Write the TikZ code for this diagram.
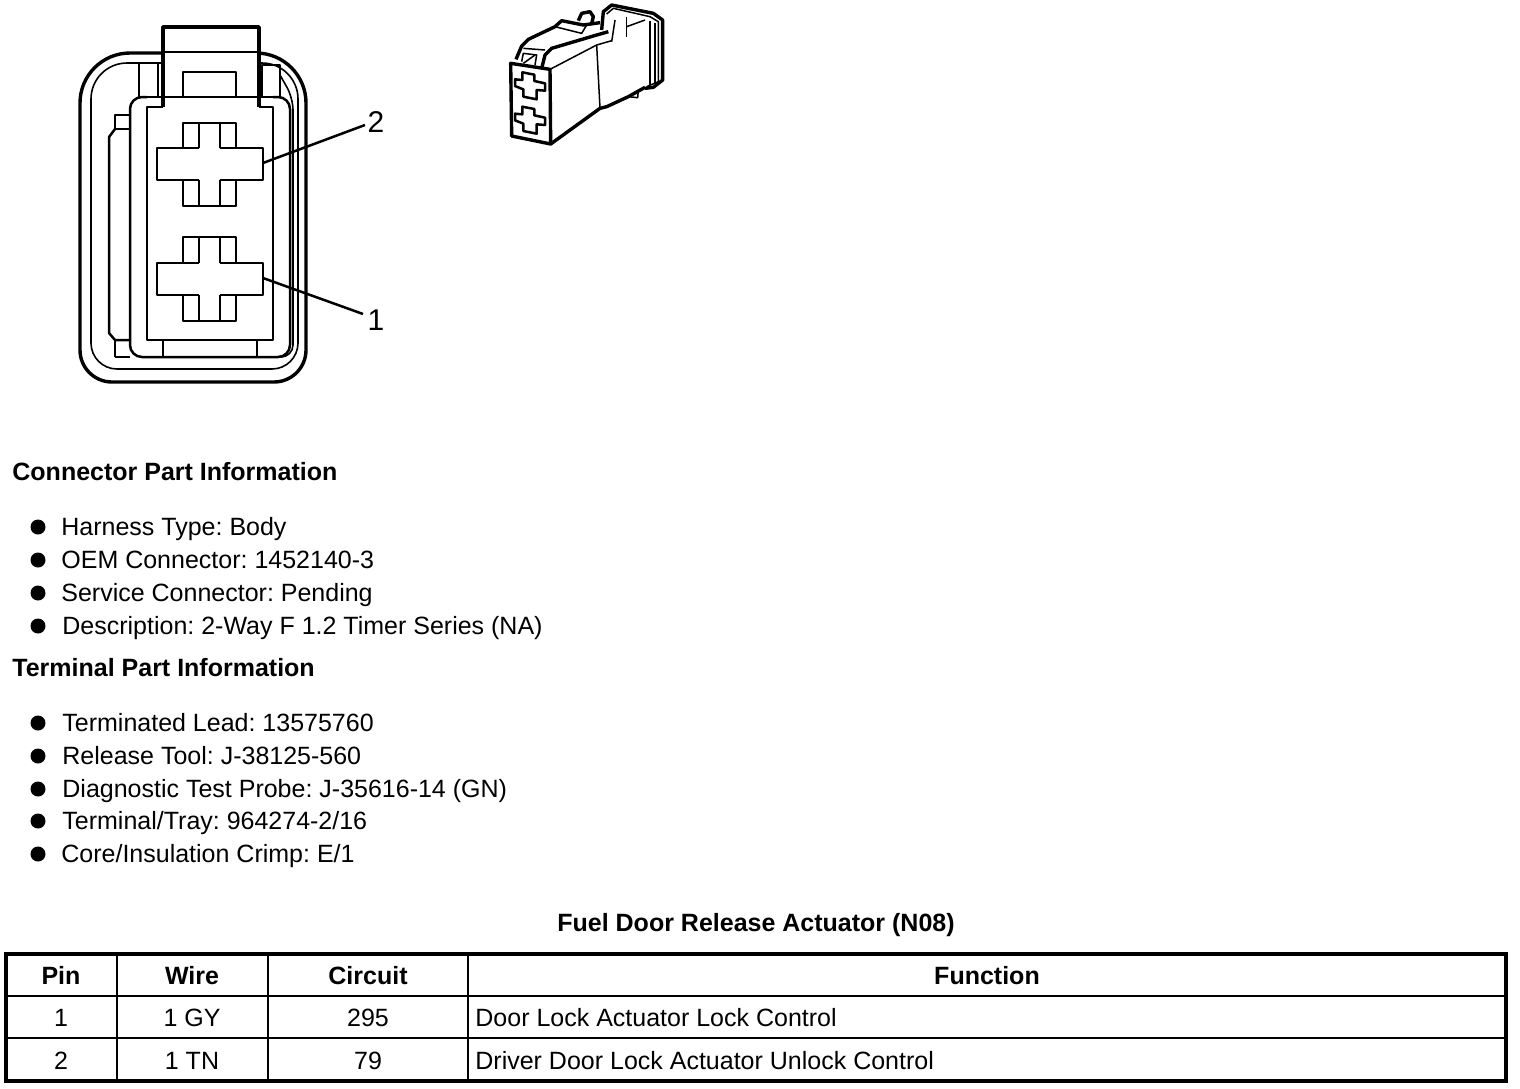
\documentclass[tikz,border=0pt]{standalone}
\usepackage{fontspec}
\setmainfont{Liberation Sans}
\usepackage{tikz}
\usetikzlibrary{calc}
\frenchspacing

\tikzset{
  heavy/.style={line width=1.7pt, line join=round},
  cavity/.style={line width=1.45pt, line join=round},
  medium/.style={line width=1.25pt, line join=round},
  light/.style={line width=0.8pt, line join=round},
  heading/.style={anchor=base west, inner sep=0pt, font=\bfseries\fontsize{12.5}{14}\selectfont},
  bodytext/.style={anchor=base west, inner sep=0pt, font=\fontsize{12.5}{14}\selectfont},
  tabletext/.style={anchor=base, inner sep=0pt, font=\fontsize{12.5}{14}\selectfont},
  tablehead/.style={anchor=base, inner sep=0pt, font=\bfseries\fontsize{12.5}{14}\selectfont},
  pinlabel/.style={inner sep=0pt, font=\fontsize{15}{17}\selectfont},
  bullet/.style={fill=black, circle, inner sep=0pt, minimum size=7.5pt},
  sketch/.style={line width=0.75pt, line join=round}
}

\begin{document}
\begin{tikzpicture}[x=0.5pt, y=-0.5pt]

        \useasboundingbox (0,0) rectangle (1520,1088);

        % shell of the connector
        \draw[heavy] (163,53) [rounded corners=25pt] -- (80,53) -- (80,250) [rounded corners=16pt] -- (80,382) -- (306,382) -- (306,250) [rounded corners=25pt] -- (306,53) -- (259,53);
        \draw[light] (163,63) [rounded corners=18pt] -- (91,63) -- (91,250) [rounded corners=13pt] -- (91,369) -- (298,369) -- (298,250) [rounded corners=18pt] -- (298,63) -- (259,63);
        \draw[light, rounded corners=6pt] (280,75) -- (293,98) -- (293,357) -- (280,357);

        % left side lugs
        \draw[medium] (130,115) -- (115,115) -- (115,129) -- (130,129);
        \draw[medium] (115,129) -- (109,137) -- (109,333) -- (115,340) -- (130,340);
        \draw[medium] (115,340) -- (115,357);

        % upper lugs
        \draw[light] (139,97) -- (139,63);
        \draw[medium] (158,97) -- (158,63);
        \draw[light] (262,97) -- (262,65) -- (280,65) -- (280,97);

        % body
        \draw[medium, rounded corners=6pt] (147,97) -- (130,97) -- (130,357) -- (290,357) -- (290,97) -- (273,97);
        \draw[light] (115,357) -- (130,357);
        \draw[light] (163,340) -- (163,357);
        \draw[light] (257,340) -- (257,357);

        % cavity and lock tab
        \draw[cavity] (163,107) -- (147,107) -- (147,340) -- (273,340) -- (273,107) -- (259,107);
        \draw[heavy, fill=white] (163,107) -- (163,27) -- (259,27) -- (259,107);
        \draw[light] (163,52) -- (259,52);
        \draw[medium] (147,97) -- (273,97);
        \draw[medium] (183,97) -- (183,72) -- (236,72) -- (236,97);

        % terminal 2
        \draw[medium] (183,148) -- (183,123) -- (236,123) -- (236,148);
        \draw[medium] (183,180) -- (183,206) -- (236,206) -- (236,180);
        \draw[light] (199,123) -- (199,148);
        \draw[light] (220,123) -- (220,148);
        \draw[light] (199,180) -- (199,206);
        \draw[light] (220,180) -- (220,206);
        \draw[cavity] (199,148) -- (157,148) -- (157,180) -- (199,180);
        \draw[cavity] (220,148) -- (263,148) -- (263,180) -- (220,180);
        \coordinate (pinB) at (263,163);

        % terminal 1
        \draw[medium] (183,263) -- (183,237) -- (236,237) -- (236,263);
        \draw[medium] (183,295) -- (183,321) -- (236,321) -- (236,295);
        \draw[light] (199,237) -- (199,263);
        \draw[light] (220,237) -- (220,263);
        \draw[light] (199,295) -- (199,321);
        \draw[light] (220,295) -- (220,321);
        \draw[cavity] (199,263) -- (157,263) -- (157,295) -- (199,295);
        \draw[cavity] (220,263) -- (263,263) -- (263,295) -- (220,295);
        \coordinate (pinA) at (263,278);

        % leaders
        \node[pinlabel] (labelB) at (376,122) {2};
        \node[pinlabel] (labelA) at (376,320) {1};
        \coordinate (endB) at (365,125);
        \coordinate (endA) at (363,314);
        \draw[medium] (pinB) -- (endB);
        \draw[medium] (pinA) -- (endA);

        % small view of the connector
        \begin{scope}[shift={(490,0)}, x=0.16667pt, y=-0.16667pt]
          \draw[heavy] (62,190) -- (180,208) -- (182,432) -- (65,408) -- cycle;
          \draw[sketch] (180,208) -- (320,135) -- (330,325);
          \draw[sketch] (320,135) -- (365,122);
          \draw[heavy] (182,432) -- (330,325) -- (350,320) -- (415,290) -- (465,262);
          \draw[sketch] (415,290) -- (443,293) -- (445,270);
          \draw[heavy] (78,178) -- (95,138) -- (115,118) -- (195,80) -- (215,62) -- (280,75) -- (330,68);
          \draw[heavy] (155,205) -- (165,165) -- (185,145) -- (320,105) -- (355,95);
          \draw[sketch] (95,185) -- (100,160) -- (140,165) -- (135,195);
          \draw[sketch] (100,190) -- (135,165);
          \draw[sketch] (100,145) -- (165,150);
          \draw[sketch] (195,80) -- (275,100) -- (290,75);
          \draw[heavy] (265,62) -- (275,40) -- (300,35) -- (310,50) -- (305,70);
          \draw[heavy] (335,90) -- (340,35) -- (365,15) -- (490,40) -- (518,60) -- (518,240) -- (490,262) -- (465,265);
          \draw[sketch] (350,42) -- (370,25) -- (480,50) -- (505,65) -- (505,245) -- (470,260);
          \draw[sketch] (495,70) -- (495,252);
          \draw[sketch] (480,62) -- (480,258);
          \draw[sketch] (365,125) -- (375,60);
          \draw[sketch] (410,110) -- (410,50);
          \draw[sketch] (410,80) -- (465,60);
          \draw[medium] (97,217) -- (133,224) -- (133,243) -- (165,250) -- (165,272) -- (140,270) -- (140,298) -- (100,290) -- (100,268) -- (75,258) -- (75,238) -- (97,240) -- cycle;
          \draw[medium] (97,320) -- (133,327) -- (133,346) -- (165,353) -- (165,375) -- (140,373) -- (140,401) -- (100,393) -- (100,371) -- (75,361) -- (75,341) -- (97,343) -- cycle;
        \end{scope}

        % part information
        \node[heading] (connhead) at (12,480) {Connector Part Information};
        \node[bullet] (bulA) at (38,527) {};
        \node[bodytext] (harness) at (61,535) {Harness Type: Body};
        \node[bullet] (bulB) at (38,560) {};
        \node[bodytext] (oem) at (61,568) {OEM Connector: 1452140-3};
        \node[bullet] (bulC) at (38,593) {};
        \node[bodytext] (service) at (61,601) {Service Connector: Pending};
        \node[bullet] (bulD) at (38,626) {};
        \node[bodytext] (descr) at (62,634) {Description: 2-Way F 1.2 Timer Series (NA)};

        \node[heading] (termhead) at (12,676) {Terminal Part Information};
        \node[bullet] (bulE) at (38,723) {};
        \node[bodytext] (lead) at (62,731) {Terminated Lead: 13575760};
        \node[bullet] (bulF) at (38,756) {};
        \node[bodytext] (tool) at (62,764) {Release Tool: J-38125-560};
        \node[bullet] (bulG) at (38,789) {};
        \node[bodytext] (probe) at (62,797) {Diagnostic Test Probe: J-35616-14 (GN)};
        \node[bullet] (bulH) at (38,821) {};
        \node[bodytext] (tray) at (62,829) {Terminal/Tray: 964274-2/16};
        \node[bullet] (bulI) at (38,854) {};
        \node[bodytext] (crimp) at (61,862) {Core/Insulation Crimp: E/1};

        % table
        \node[tablehead] (title) at (756,931) {Fuel Door Release Actuator (N08)};
        \draw[line width=1.6pt] (6,954) rectangle (1506,1081);
        \draw[line width=1pt] (6,996) -- (1506,996);
        \draw[line width=0.8pt] (6,1038) -- (1506,1038);
        \draw[line width=0.8pt] (117,954) -- (117,1081);
        \draw[line width=0.8pt] (268,954) -- (268,1081);
        \draw[line width=0.8pt] (468,954) -- (468,1081);

        \node[tablehead] (hpin) at (61,984) {Pin};
        \node[tablehead] (hwire) at (192,984) {Wire};
        \node[tablehead] (hcircuit) at (368,984) {Circuit};
        \node[tablehead] (hfunc) at (987,984) {Function};

        \node[tabletext] (pinone) at (61,1026) {1};
        \node[tabletext] (wireone) at (192,1026) {1 GY};
        \node[tabletext] (circone) at (368,1026) {295};
        \node[bodytext] (funcone) at (475,1026) {Door Lock Actuator Lock Control};

        \node[tabletext] (pintwo) at (61,1069) {2};
        \node[tabletext] (wiretwo) at (192,1069) {1 TN};
        \node[tabletext] (circtwo) at (368,1069) {79};
        \node[bodytext] (functwo) at (475,1069) {Driver Door Lock Actuator Unlock Control};

\end{tikzpicture}
\end{document}
